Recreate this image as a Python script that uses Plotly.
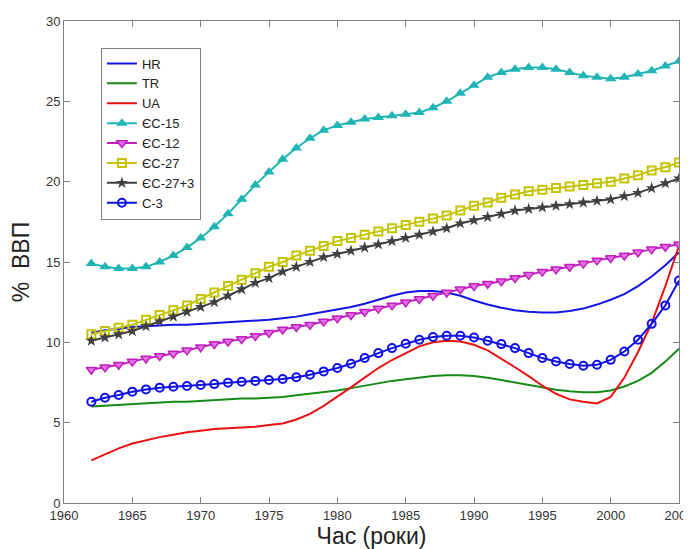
import plotly.graph_objects as go

years = list(range(1962, 2006))

hr = [10.6, 10.75, 10.85, 10.95, 11.0, 11.05, 11.1, 11.1, 11.15, 11.2, 11.25, 11.3, 11.35, 11.4,
      11.5, 11.6, 11.75, 11.9, 12.05, 12.2, 12.4, 12.65, 12.9, 13.1, 13.2, 13.2, 13.1, 12.9, 12.6,
      12.35, 12.15, 12.0, 11.9, 11.85, 11.85, 11.95, 12.1, 12.35, 12.65, 13.0, 13.5, 14.1, 14.8, 15.6]
tr = [6.0, 6.05, 6.1, 6.15, 6.2, 6.25, 6.3, 6.3, 6.35, 6.4, 6.45, 6.5, 6.5, 6.55,
      6.6, 6.7, 6.8, 6.9, 7.0, 7.15, 7.3, 7.45, 7.6, 7.7, 7.8, 7.9, 7.95, 7.95, 7.9,
      7.8, 7.65, 7.5, 7.35, 7.2, 7.05, 6.95, 6.9, 6.9, 7.0, 7.25, 7.6, 8.1, 8.8, 9.6]
ua = [2.65, 3.05, 3.4, 3.7, 3.9, 4.1, 4.25, 4.4, 4.5, 4.6, 4.65, 4.7, 4.75, 4.85,
      4.95, 5.2, 5.55, 6.05, 6.6, 7.2, 7.8, 8.4, 8.9, 9.35, 9.75, 10.0, 10.1, 10.05, 9.85,
      9.5, 9.0, 8.45, 7.9, 7.3, 6.8, 6.45, 6.3, 6.2, 6.6, 7.8, 9.4, 11.2, 13.5, 16.0]
eu15 = [14.9, 14.7, 14.6, 14.6, 14.7, 15.0, 15.4, 15.9, 16.5, 17.2, 18.0, 18.9, 19.8, 20.6,
        21.4, 22.1, 22.7, 23.2, 23.5, 23.7, 23.9, 24.0, 24.1, 24.2, 24.3, 24.6, 25.0, 25.5, 26.0,
        26.5, 26.8, 27.0, 27.1, 27.1, 27.0, 26.8, 26.6, 26.5, 26.4, 26.5, 26.7, 26.9, 27.2, 27.5]
eu12 = [8.3, 8.45, 8.6, 8.8, 9.0, 9.15, 9.3, 9.5, 9.7, 9.9, 10.05, 10.2, 10.4, 10.6,
        10.8, 10.95, 11.1, 11.3, 11.5, 11.7, 11.9, 12.1, 12.3, 12.5, 12.7, 12.9, 13.1, 13.3, 13.5,
        13.65, 13.8, 14.0, 14.2, 14.4, 14.55, 14.7, 14.9, 15.1, 15.25, 15.4, 15.6, 15.8, 15.95, 16.1]
eu27 = [10.5, 10.7, 10.9, 11.1, 11.4, 11.7, 12.0, 12.3, 12.7, 13.1, 13.5, 13.9, 14.3, 14.7,
        15.0, 15.4, 15.7, 16.0, 16.3, 16.5, 16.7, 16.9, 17.1, 17.3, 17.5, 17.7, 17.9, 18.2, 18.5,
        18.7, 19.0, 19.2, 19.4, 19.5, 19.6, 19.7, 19.8, 19.9, 20.0, 20.2, 20.4, 20.7, 20.9, 21.2]
eu27p3 = [10.1, 10.3, 10.5, 10.7, 11.0, 11.3, 11.6, 11.9, 12.2, 12.5, 12.9, 13.3, 13.7, 14.0,
          14.4, 14.7, 15.0, 15.3, 15.5, 15.7, 15.9, 16.1, 16.3, 16.5, 16.7, 16.9, 17.1, 17.4, 17.6,
          17.8, 18.0, 18.2, 18.3, 18.4, 18.5, 18.6, 18.7, 18.8, 18.9, 19.1, 19.3, 19.6, 19.9, 20.2]
c3 = [6.3, 6.55, 6.72, 6.93, 7.07, 7.18, 7.24, 7.28, 7.34, 7.4, 7.49, 7.55, 7.6, 7.66,
      7.72, 7.83, 7.98, 8.19, 8.4, 8.67, 9.02, 9.33, 9.64, 9.91, 10.16, 10.33, 10.41, 10.41, 10.3,
      10.1, 9.89, 9.64, 9.33, 9.02, 8.81, 8.65, 8.54, 8.6, 8.91, 9.43, 10.16, 11.15, 12.3, 13.85]

x_ticks = [1960, 1965, 1970, 1975, 1980, 1985, 1990, 1995, 2000, 2005]
y_ticks = [0, 5, 10, 15, 20, 25, 30]

fig = go.Figure()
fig.add_trace(go.Scatter(x=years, y=hr, name="HR", mode="lines",
                         line=dict(color="#1414e6", width=2)))
fig.add_trace(go.Scatter(x=years, y=tr, name="TR", mode="lines",
                         line=dict(color="#168c16", width=2)))
fig.add_trace(go.Scatter(x=years, y=ua, name="UA", mode="lines",
                         line=dict(color="#e81010", width=2)))
fig.add_trace(go.Scatter(x=years, y=eu15, name="ЄС-15", mode="lines+markers",
                         line=dict(color="#20b5b5", width=2),
                         marker=dict(symbol="triangle-up", size=10, color="#20b5b5")))
fig.add_trace(go.Scatter(x=years, y=eu12, name="ЄС-12", mode="lines+markers",
                         line=dict(color="#c020c0", width=2),
                         marker=dict(symbol="triangle-down", size=9, color="#e070e0",
                                     line=dict(color="#c020c0", width=1.5))))
fig.add_trace(go.Scatter(x=years, y=eu27, name="ЄС-27", mode="lines+markers",
                         line=dict(color="#c4c400", width=2),
                         marker=dict(symbol="square-open", size=8, color="#c4c400",
                                     line=dict(width=2))))
fig.add_trace(go.Scatter(x=years, y=eu27p3, name="ЄС-27+3", mode="lines+markers",
                         line=dict(color="#404040", width=2),
                         marker=dict(symbol="star", size=9, color="#404040")))
fig.add_trace(go.Scatter(x=years, y=c3, name="C-3", mode="lines+markers",
                         line=dict(color="#1010e6", width=2),
                         marker=dict(symbol="circle-open", size=8, color="#1010e6",
                                     line=dict(width=2))))

axis_common = dict(showline=True, linecolor="#808080", linewidth=1, mirror="ticks",
                   ticks="inside", ticklen=6, tickcolor="#808080", showgrid=False,
                   zeroline=False, automargin=False, ticklabeloverflow="allow",
                   tickfont=dict(family="Liberation Sans, Arial", size=13, color="#333333"))

fig.update_layout(
    width=691, height=541,
    margin=dict(l=56, r=20, t=13, b=46),
    paper_bgcolor="white", plot_bgcolor="white",
    font=dict(family="Liberation Sans, Arial", color="#222222"),
    showlegend=True,
    legend=dict(x=0.06, y=0.945, xanchor="left", yanchor="top",
                bgcolor="white", bordercolor="#808080", borderwidth=1,
                font=dict(size=13, family="Liberation Sans, Arial"),
                tracegroupgap=0, itemwidth=30),
    xaxis=dict(range=[1960, 2005], tickvals=x_ticks,
               title=dict(text="Час (роки)", font=dict(size=23), standoff=2),
               **axis_common),
    yaxis=dict(range=[0, 30], tickvals=y_ticks,
               title=dict(text="%  ВВП", font=dict(size=23), standoff=14),
               **axis_common),
)

fig.write_html("out.html")
